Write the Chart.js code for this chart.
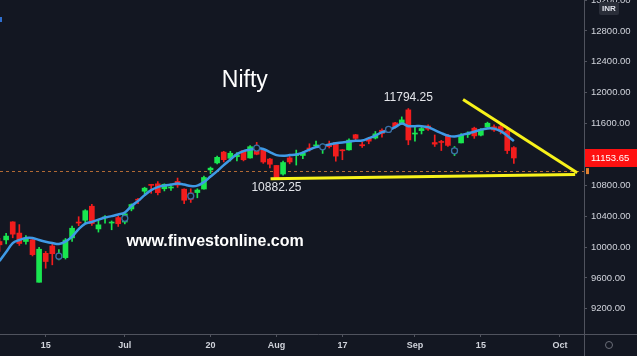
<!DOCTYPE html>
<html>
<head>
<meta charset="utf-8">
<title>Nifty</title>
<script src="https://cdn.jsdelivr.net/npm/chart.js@4.4.0/dist/chart.umd.min.js"></script>
<style>
  html, body { margin: 0; padding: 0; background: #131722; overflow: hidden; }
  #chart { display: block; }
</style>
</head>
<body>
<canvas id="chart" width="637" height="356"></canvas>
<script>
'use strict';

// trading days (last ones are empty future slots on the time axis)
const days = ['Jun 4','Jun 5','Jun 8','Jun 9','Jun 10','Jun 11','Jun 12','Jun 15','Jun 16','Jun 17','Jun 18','Jun 19',
  'Jun 22','Jun 23','Jun 24','Jun 25','Jun 26','Jun 29','Jun 30','Jul 1','Jul 2','Jul 3','Jul 6','Jul 7','Jul 8','Jul 9',
  'Jul 10','Jul 13','Jul 14','Jul 15','Jul 16','Jul 17','Jul 20','Jul 21','Jul 22','Jul 23','Jul 24','Jul 27','Jul 28',
  'Jul 29','Jul 30','Jul 31','Aug 3','Aug 4','Aug 5','Aug 6','Aug 7','Aug 10','Aug 11','Aug 12','Aug 13','Aug 14',
  'Aug 17','Aug 18','Aug 19','Aug 20','Aug 21','Aug 24','Aug 25','Aug 26','Aug 27','Aug 28','Aug 31','Sep 1','Sep 2',
  'Sep 3','Sep 4','Sep 7','Sep 8','Sep 9','Sep 10','Sep 11','Sep 14','Sep 15','Sep 16','Sep 17','Sep 18','Sep 21',
  'Sep 22','Sep 23','Sep 24','Sep 25','Sep 28','Sep 29','Sep 30','Oct 1','Oct 5','Oct 6','Oct 7'];

const opens = [10072,10093,10326,10181,10072,10094,9544,9919,10014,9876,9863,10119,10318,10347,10529,10235,10378,10311,
  10382,10324,10493,10615,10723,10802,10819,10755,10765,10851,10750,10701,10706,10752,10999,11090,11230,11150,11170,
  11250,11154,11276,11254,11140,11057,10946,11155,11185,11186,11271,11310,11280,11334,11353,11248,11259,11455,11326,
  11410,11412,11513,11502,11609,11602,11777,11464,11508,11568,11354,11359,11443,11220,11349,11455,11540,11449,11555,
  11558,11560,11503,11288];
const highs = [10112,10177,10328,10291,10148,10112,9996,9943,10046,9966,10111,10272,10393,10484,10553,10361,10409,10338,
  10401,10447,10560,10631,10775,10813,10848,10819,10801,10894,10755,10755,10755,10918,11037,11179,11240,11240,11225,
  11250,11313,11356,11254,11150,11058,11113,11176,11256,11232,11338,11373,11337,11373,11354,11262,11401,11460,11360,
  11418,11497,11531,11562,11617,11686,11794.25,11555,11553,11584,11452,11382,11459,11303,11469,11493,11553,11536,11618,
  11584,11585,11535,11302];
const lows = [9945,10040,10120,10021,10036,9885,9544,9726,9770,9833,9845,10072,10277,10301,10281,10194,10311,10224,
  10267,10300,10469,10562,10690,10696,10676,10727,10735,10773,10562,10578,10638,10750,10953,11077,11103,11113,11116,
  11116,11151,11195,11084,11026,10882.25,10932,11078,11062,11145,11241,11300,11213,11283,11112,11131,11254,11370,11290,
  11338,11400,11423,11488,11540,11589,11325,11371,11465,11511,11303,11250,11303,11185,11349,11419,11408,11439,11532,
  11498,11465,11211,11083];
const closes = [10029,10142,10167,10046,10116,9902,9972,9813,9914,9881,10091,10244,10311,10471,10305,10288,10383,10312,
  10302,10430,10551,10607,10763,10799,10705,10813,10768,10802,10607,10618,10739,10901,11022,11162,11132,11215,11194,
  11131,11300,11202,11102,11073,10892,11095,11102,11200,11214,11270,11322,11308,11300,11178,11247,11385,11408,11312,
  11372,11466,11472,11549,11559,11647,11387,11470,11535,11527,11333,11355,11317,11278,11449,11464,11440,11521,11604,
  11516,11505,11250,11153.65];

// blue moving average line
const maValues = [9819,9935,10052,10091,10117,10117,10091,10069,10052,10039,10071,10136,10233,10304,10324,10356,10382,
  10401,10421,10447,10531,10596,10673,10738,10777,10796,10809,10822,10809,10790,10796,10841,10913,10984,11062,11133,
  11204,11243,11262,11278,11271,11230,11191,11182,11191,11200,11223,11262,11294,11310,11327,11346,11353,11366,11376,
  11379,11411,11443,11489,11512,11553,11599,11566,11566,11566,11553,11515,11476,11443,11431,11450,11472,11493,11521,
  11537,11534,11502,11443,11372];

// small circle markers
const markerDays = ['Jun 17','Jul 1','Jul 15','Jul 29','Aug 12','Aug 26','Sep 9'];
const markerValues = [9882,10372,10660,11282,11298,11524,11247];

// axis ticks
const tickDays = ['Jun 15','Jul 1','Jul 20','Aug 3','Aug 17','Sep 1','Sep 15','Oct 1'];
const tickText = ['15','Jul','20','Aug','17','Sep','15','Oct'];
const priceTicks = [9200,9600,10000,10400,10800,11200,11600,12000,12400,12800,13200];

// drawn trend lines: [day index, price]
const supportLine = [[41.1, 10884], [87.3, 10939]];
const resistanceLine = [[70.3, 11912], [87.6, 10963]];

const lastPrice = 11153.65;
const dashedLevel = 10984;

const BG = '#131722';
const UP = '#19e650';
const DOWN = '#f21d1d';
const AXIS_TEXT = '#d1d4dc';
const SEP = '#50535e';

const idx = d => days.indexOf(d);
const candleColors = opens.map((o, i) => closes[i] >= o ? UP : DOWN);

const chrome = {
  id: 'chrome',
  beforeDraw(chart) {
    const ctx = chart.ctx;
    ctx.save();
    ctx.fillStyle = BG;
    ctx.fillRect(0, 0, chart.width, chart.height);
    ctx.restore();
  },
  beforeDatasetsDraw(chart) {
    const {ctx, chartArea, scales} = chart;
    const y = Math.round(scales.y.getPixelForValue(dashedLevel)) + 0.5;
    ctx.save();
    ctx.strokeStyle = 'rgba(205,120,55,0.85)';
    ctx.lineWidth = 1;
    ctx.setLineDash([3, 3]);
    ctx.beginPath();
    ctx.moveTo(chartArea.left, y);
    ctx.lineTo(chartArea.right, y);
    ctx.stroke();
    ctx.restore();
  },
  afterDraw(chart) {
    const {ctx, chartArea, scales} = chart;
    const x = scales.x, y = scales.y;
    ctx.save();

    // separators
    ctx.strokeStyle = SEP;
    ctx.lineWidth = 1;
    ctx.beginPath();
    ctx.moveTo(Math.round(chartArea.right) + 0.5, 0);
    ctx.lineTo(Math.round(chartArea.right) + 0.5, chart.height);
    ctx.moveTo(0, Math.round(chartArea.bottom) + 0.5);
    ctx.lineTo(chart.width, Math.round(chartArea.bottom) + 0.5);
    ctx.stroke();

    // texts
    ctx.fillStyle = '#ffffff';
    ctx.textAlign = 'center';
    ctx.textBaseline = 'middle';
    ctx.font = '23px "Liberation Sans", Arial, sans-serif';
    ctx.fillText('Nifty', x.getPixelForValue(37.2), y.getPixelForValue(12149));

    ctx.font = 'bold 16px "Liberation Sans", Arial, sans-serif';
    ctx.fillText('www.finvestonline.com', x.getPixelForValue(32.7), y.getPixelForValue(10065));

    ctx.fillStyle = '#e3e5ea';
    ctx.font = '12px "Liberation Sans", Arial, sans-serif';
    const peak = idx('Aug 31');
    ctx.fillText(highs[peak].toFixed(2), x.getPixelForValue(peak), y.getPixelForValue(highs[peak]) - 11);
    const trough = idx('Aug 3');
    ctx.fillText(lows[trough].toFixed(2), x.getPixelForValue(trough), y.getPixelForValue(lows[trough]) + 9);

    // last price tag
    const py = y.getPixelForValue(lastPrice);
    ctx.fillStyle = '#ff1111';
    ctx.fillRect(chartArea.right + 1, py - 9, chart.width - chartArea.right, 18);
    ctx.fillStyle = '#ffffff';
    ctx.textAlign = 'left';
    ctx.font = '9.5px "Liberation Sans", Arial, sans-serif';
    ctx.fillText(lastPrice.toFixed(2), chartArea.right + 7, py + 0.5);

    // small orange marker on the axis
    const dy = y.getPixelForValue(dashedLevel);
    ctx.fillStyle = '#e3812f';
    ctx.fillRect(chartArea.right + 2, dy - 3, 3, 6);

    // currency badge
    ctx.fillStyle = '#2a2e39';
    ctx.beginPath();
    ctx.roundRect(599, 2, 20, 13, 2);
    ctx.fill();
    ctx.fillStyle = '#e0e3eb';
    ctx.textAlign = 'center';
    ctx.font = 'bold 8px "Liberation Sans", Arial, sans-serif';
    ctx.fillText('INR', 609, 9);

    // settings gear
    ctx.strokeStyle = '#6a6d78';
    ctx.lineWidth = 1;
    ctx.beginPath();
    ctx.arc(609, 345, 3.5, 0, Math.PI * 2);
    ctx.stroke();

    // tiny blue corner mark
    ctx.fillStyle = '#2f6fcf';
    ctx.fillRect(0, 17, 2, 5);
    ctx.restore();
  }
};

function renderChart() {
  const canvasElem = document.getElementById('chart');

  const bodies = opens.map((o, i) => ({x: i, y: [o, closes[i]]}));
  const wicks = lows.map((l, i) => ({x: i, y: [l, highs[i]]}));

  const chartData = {
    datasets: [
      {
        type: 'line',
        data: supportLine.map(p => ({x: p[0], y: p[1]})),
        borderColor: '#f7f21a',
        borderWidth: 3,
        pointRadius: 0,
        order: 0
      },
      {
        type: 'line',
        data: resistanceLine.map(p => ({x: p[0], y: p[1]})),
        borderColor: '#f7f21a',
        borderWidth: 3,
        pointRadius: 0,
        order: 0
      },
      {
        type: 'scatter',
        data: markerDays.map((d, i) => ({x: idx(d), y: markerValues[i]})),
        pointRadius: 3,
        borderWidth: 1.3,
        borderColor: '#3a6fa8',
        backgroundColor: BG,
        order: 1
      },
      {
        type: 'line',
        data: maValues.map((v, i) => ({x: i, y: v})),
        borderColor: '#3f9ae6',
        borderWidth: 2.5,
        pointRadius: 0,
        tension: 0.35,
        order: 2
      },
      {
        type: 'bar',
        data: bodies,
        backgroundColor: candleColors,
        borderWidth: 0,
        barThickness: 5,
        minBarLength: 1,
        grouped: false,
        order: 3
      },
      {
        type: 'bar',
        data: wicks,
        backgroundColor: candleColors,
        borderWidth: 0,
        barThickness: 1,
        grouped: false,
        order: 4
      }
    ]
  };

  const chartConfig = {
    type: 'bar',
    data: chartData,
    options: {
      responsive: false,
      animation: false,
      devicePixelRatio: 1,
      layout: {padding: 0, autoPadding: false},
      events: [],
      plugins: {
        legend: {display: false},
        tooltip: {enabled: false}
      },
      scales: {
        x: {
          type: 'linear',
          position: 'bottom',
          offset: false,
          min: 0.07,
          max: 88.64,
          grid: {drawOnChartArea: false, drawTicks: true, tickLength: 3, color: SEP, offset: false},
          border: {display: false},
          ticks: {
            color: AXIS_TEXT,
            font: {family: '"Liberation Sans", Arial, sans-serif', size: 9, weight: 'bold'},
            padding: 3,
            maxRotation: 0,
            autoSkip: false,
            callback: v => {
              const k = tickDays.findIndex(d => idx(d) === v);
              return k >= 0 ? tickText[k] : '';
            }
          },
          afterBuildTicks: scale => {
            scale.ticks = tickDays.map(d => ({value: idx(d)}));
          },
          afterFit: scale => {
            scale.height = 22;
            scale.paddingLeft = 0;
            scale.paddingRight = 0;
          }
        },
        y: {
          type: 'linear',
          position: 'right',
          min: 8874,
          max: 13200,
          grid: {drawOnChartArea: false, drawTicks: true, tickLength: 3, color: SEP},
          border: {display: false},
          ticks: {
            color: AXIS_TEXT,
            font: {family: '"Liberation Sans", Arial, sans-serif', size: 9.5},
            padding: 4,
            callback: v => v.toFixed(2)
          },
          afterBuildTicks: scale => {
            scale.ticks = priceTicks.map(v => ({value: v}));
          },
          afterFit: scale => {
            scale.width = 53;
            scale.paddingTop = 0;
            scale.paddingBottom = 0;
          }
        }
      }
    },
    plugins: [chrome]
  };

  new Chart(canvasElem.getContext('2d'), chartConfig);
}

renderChart();
</script>
</body>
</html>
